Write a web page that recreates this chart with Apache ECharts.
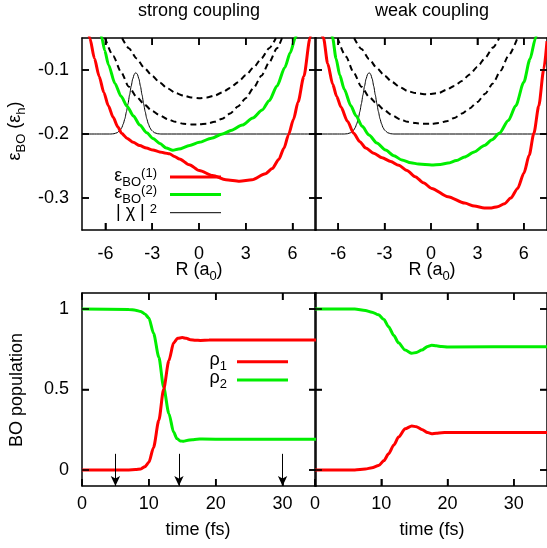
<!DOCTYPE html>
<html><head><meta charset="utf-8">
<script src="https://cdn.jsdelivr.net/npm/echarts@6/dist/echarts.min.js"></script>
<style>html,body{margin:0;padding:0;background:#fff}#c{width:547px;height:548px}</style>
</head><body><div id="c"></div>
<script>
// ---------- data ----------
const panelTitles = ['strong coupling', 'weak coupling'];
const rTicks = [-6, -3, 0, 3, 6];
const eTicks = [-0.3, -0.2, -0.1];
const tTicks = [0, 10, 20, 30];
const rhoTicks = [0, 0.5, 1];
const arrowTimes = [5, 14.5, 30];

// strong coupling, BO surfaces  [R (a0), energy (Eh)]
const strongE1 = [[-7.2,-0.03],[-7.0,-0.05],[-6.7,-0.082],[-6.4,-0.11],[-6.1,-0.135],[-5.81,-0.156],[-5.5,-0.174],[-5.2,-0.189],[-4.96,-0.199],[-4.6,-0.207],[-4.22,-0.213],[-3.8,-0.218],[-3.37,-0.222],[-2.95,-0.225],[-2.52,-0.228],[-2.2,-0.2295],[-1.89,-0.231],[-1.57,-0.235],[-1.25,-0.239],[-0.62,-0.248],[0.02,-0.257],[0.87,-0.265],[1.72,-0.2715],[2.6,-0.2737],[3.4,-0.2715],[4.26,-0.262],[4.7,-0.254],[5.11,-0.240],[5.45,-0.222],[5.74,-0.201],[6.06,-0.177],[6.35,-0.150],[6.72,-0.110],[7.12,-0.05],[7.3,-0.02]];
const strongE2 = [[-6.4,-0.03],[-6.23,-0.05],[-6.05,-0.069],[-5.8,-0.092],[-5.39,-0.121],[-5.0,-0.141],[-4.6,-0.157],[-4.2,-0.172],[-3.80,-0.186],[-3.35,-0.198],[-2.95,-0.207],[-2.5,-0.215],[-2.10,-0.222],[-1.68,-0.2255],[-1.3,-0.2235],[-0.6,-0.218],[0.02,-0.213],[0.8,-0.2065],[1.5,-0.200],[2.1,-0.194],[2.77,-0.186],[3.45,-0.175],[4.05,-0.1625],[4.5,-0.148],[5.0,-0.125],[5.5,-0.096],[5.85,-0.073],[6.17,-0.05],[6.35,-0.035]];
const strongE3 = [[-6.02,-0.05],[-5.5,-0.078],[-5.0,-0.103],[-4.5,-0.126],[-4.0,-0.142],[-3.5,-0.154],[-3.0,-0.164],[-2.5,-0.171],[-2.0,-0.177],[-1.5,-0.181],[-1.0,-0.184],[-0.5,-0.185],[0,-0.185],[0.5,-0.184],[1.0,-0.181],[1.5,-0.176],[2.0,-0.168],[2.5,-0.157],[3.0,-0.144],[3.5,-0.128],[4.0,-0.109],[4.5,-0.088],[5.0,-0.066],[5.32,-0.05]];
const strongE4 = [[-4.93,-0.05],[-4.5,-0.066],[-4.0,-0.082],[-3.5,-0.097],[-3.0,-0.109],[-2.5,-0.120],[-2.0,-0.129],[-1.5,-0.136],[-1.0,-0.140],[-0.5,-0.143],[0,-0.144],[0.5,-0.143],[1.0,-0.140],[1.5,-0.135],[2.0,-0.128],[2.5,-0.119],[3.0,-0.108],[3.5,-0.096],[4.0,-0.082],[4.5,-0.066],[4.93,-0.05]];
const strongChi = [[-7.5,-0.2],[-5.65,-0.2],[-5.45,-0.1996],[-5.25,-0.198],[-5.05,-0.194],[-4.95,-0.190],[-4.85,-0.184],[-4.75,-0.176],[-4.65,-0.165],[-4.55,-0.1527],[-4.45,-0.139],[-4.35,-0.1256],[-4.25,-0.114],[-4.15,-0.1067],[-4.05,-0.104],[-3.95,-0.1067],[-3.85,-0.114],[-3.75,-0.1256],[-3.65,-0.139],[-3.55,-0.1527],[-3.45,-0.165],[-3.35,-0.176],[-3.25,-0.184],[-3.15,-0.190],[-3.05,-0.194],[-2.85,-0.198],[-2.65,-0.1996],[-2.45,-0.2],[7.5,-0.2]];

// weak coupling, BO surfaces
const weakE1 = [[-7.2,-0.035],[-6.95,-0.05],[-6.68,-0.09],[-6.36,-0.122],[-6.1,-0.141],[-5.82,-0.158],[-5.4,-0.18],[-5.0,-0.199],[-4.6,-0.212],[-4.22,-0.222],[-3.7,-0.23],[-3.16,-0.237],[-2.6,-0.243],[-2.09,-0.249],[-1.55,-0.257],[-1.02,-0.2667],[-0.5,-0.276],[0.04,-0.285],[1.1,-0.298],[2.17,-0.308],[2.8,-0.3125],[3.45,-0.3155],[3.9,-0.3155],[4.3,-0.3136],[4.75,-0.309],[5.16,-0.300],[5.6,-0.285],[6.01,-0.261],[6.35,-0.233],[6.65,-0.199],[6.97,-0.156],[7.29,-0.099],[7.5,-0.055]];
const weakE2 = [[-6.55,-0.03],[-6.36,-0.05],[-6.14,-0.082],[-5.9,-0.108],[-5.61,-0.13],[-5.18,-0.156],[-4.86,-0.171],[-4.45,-0.188],[-4.01,-0.2016],[-3.5,-0.214],[-2.94,-0.225],[-2.4,-0.234],[-1.88,-0.2406],[-1.3,-0.245],[-0.81,-0.2469],[0.04,-0.2484],[0.6,-0.2475],[1.1,-0.2455],[1.65,-0.2415],[2.17,-0.236],[2.8,-0.228],[3.45,-0.218],[3.95,-0.209],[4.41,-0.199],[5.0,-0.179],[5.48,-0.156],[6.0,-0.119],[6.4,-0.083],[6.76,-0.05],[6.9,-0.035]];
const weakE3 = [[-6.04,-0.05],[-5.5,-0.079],[-5.0,-0.104],[-4.5,-0.126],[-4.0,-0.142],[-3.5,-0.153],[-3.0,-0.163],[-2.5,-0.171],[-2.0,-0.177],[-1.5,-0.181],[-1.0,-0.183],[-0.5,-0.184],[0,-0.184],[0.5,-0.183],[1.0,-0.180],[1.5,-0.175],[2.0,-0.168],[2.5,-0.160],[3.0,-0.150],[3.5,-0.137],[4.0,-0.121],[4.5,-0.101],[5.0,-0.078],[5.59,-0.05]];
const weakE4 = [[-4.97,-0.05],[-4.5,-0.067],[-4.0,-0.083],[-3.5,-0.097],[-3.0,-0.109],[-2.5,-0.119],[-2.0,-0.127],[-1.5,-0.133],[-1.0,-0.136],[-0.3,-0.138],[0.5,-0.136],[1.0,-0.131],[1.5,-0.125],[2.0,-0.117],[2.5,-0.107],[3.0,-0.095],[3.5,-0.081],[4.0,-0.065],[4.41,-0.05]];
const weakChi = [[-7.5,-0.2],[-5.6,-0.2],[-5.4,-0.1996],[-5.2,-0.198],[-5.0,-0.194],[-4.9,-0.190],[-4.8,-0.184],[-4.7,-0.176],[-4.6,-0.165],[-4.5,-0.1527],[-4.4,-0.139],[-4.3,-0.1256],[-4.2,-0.114],[-4.1,-0.1067],[-4.0,-0.104],[-3.9,-0.1067],[-3.8,-0.114],[-3.7,-0.1256],[-3.6,-0.139],[-3.5,-0.1527],[-3.4,-0.165],[-3.3,-0.176],[-3.2,-0.184],[-3.1,-0.190],[-3.0,-0.194],[-2.8,-0.198],[-2.6,-0.1996],[-2.4,-0.2],[7.5,-0.2]];

// BO populations  [time (fs), population]
const strongRho1 = [[0,0],[7,0],[8,0.002],[8.8,0.006],[9.4,0.02],[10,0.047],[10.7,0.14],[11.5,0.31],[12.2,0.50],[13,0.68],[13.7,0.79],[14.3,0.818],[15,0.823],[15.6,0.818],[16.2,0.81],[17,0.806],[17.7,0.805],[19,0.807],[22,0.808],[35,0.808]];
const strongRho2 = [[0,1],[7,0.998],[8,0.993],[8.8,0.985],[9.4,0.97],[10,0.944],[10.7,0.85],[11.5,0.70],[12.2,0.516],[13,0.35],[13.7,0.235],[14.2,0.195],[14.7,0.18],[15.2,0.178],[15.7,0.183],[16.5,0.188],[17.2,0.191],[18,0.192],[22,0.19],[35,0.19]];
const weakRho1 = [[0,0],[6,0],[7.6,0.006],[8.6,0.013],[9.6,0.027],[10.4,0.058],[11.1,0.1],[11.9,0.155],[12.6,0.204],[13.6,0.256],[14.6,0.273],[15.3,0.268],[16.1,0.252],[17,0.232],[17.6,0.225],[18.3,0.228],[19.1,0.231],[20,0.233],[35,0.233]];
const weakRho2 = [[0,1],[6,1],[7.6,0.991],[8.6,0.981],[9.6,0.964],[10.4,0.935],[11.1,0.89],[11.9,0.835],[12.6,0.79],[13.6,0.745],[14.6,0.725],[15.3,0.73],[16.1,0.745],[17,0.768],[17.6,0.775],[18.3,0.772],[19.1,0.767],[20,0.765],[35,0.766]];

// ---------- chart ----------
const FONT = 'Liberation Sans';
const RED = '#ff0000', GREEN = '#00ee00', BLACK = '#000000';
const chart = echarts.init(document.getElementById('c'), null, {renderer: 'canvas'});

const gridBoxes = [
  {left: 82, top: 38, width: 234, height: 192},
  {left: 315, top: 38, width: 234, height: 192},
  {left: 82, top: 293, width: 234, height: 193},
  {left: 315, top: 293, width: 234, height: 193}
];
const xRanges = [[-7.5, 7.5], [-7.5, 7.5], [0, 35], [0, 35]];
const yRanges = [[-0.35, -0.05], [-0.35, -0.05], [-0.1, 1.1], [-0.1, 1.1]];
const xTickSets = [rTicks, rTicks, tTicks, tTicks];
const yTickSets = [eTicks, eTicks, rhoTicks, rhoTicks];
const xMargins = [15, 15, 9, 9];

const axLine = {show: true, onZero: false, lineStyle: {color: BLACK, width: 1.5}};
const xAxes = [], yAxes = [];
for (let pos of ['bottom', 'top']) {
  for (let i = 0; i < 4; i++) {
    xAxes.push({
      type: 'value', gridIndex: i, position: pos, min: xRanges[i][0], max: xRanges[i][1],
      axisLine: axLine, splitLine: {show: false},
      axisTick: {show: true, inside: true, length: 7, customValues: xTickSets[i], lineStyle: {color: BLACK, width: 1.5}},
      axisLabel: {show: pos === 'bottom', customValues: xTickSets[i], margin: xMargins[i],
        fontFamily: FONT, fontSize: 18, color: BLACK}
    });
  }
}
for (let pos of ['left', 'right']) {
  for (let i = 0; i < 4; i++) {
    yAxes.push({
      type: 'value', gridIndex: i, position: pos, min: yRanges[i][0], max: yRanges[i][1],
      axisLine: axLine, splitLine: {show: false},
      axisTick: {show: true, inside: true, length: 7, customValues: yTickSets[i], lineStyle: {color: BLACK, width: 1.5}},
      axisLabel: {show: pos === 'left' && (i === 0 || i === 2), customValues: yTickSets[i], margin: 13,
        fontFamily: FONT, fontSize: 18, color: BLACK}
    });
  }
}

function ln(data, gi, color, width, type, smooth) {
  return {type: 'line', data: data, xAxisIndex: gi, yAxisIndex: gi, symbol: 'none', showSymbol: false,
    smooth: smooth === undefined ? 0.25 : smooth, smoothMonotone: 'x', clip: true, silent: true,
    lineStyle: {color: color, width: width, type: type || 'solid'}};
}

const series = [
  ln(strongE4, 0, BLACK, 2, [6, 4]), ln(strongE3, 0, BLACK, 2, [6, 4]),
  ln(strongChi, 0, BLACK, 1, 'solid', 0.2),
  ln(strongE2, 0, GREEN, 3), ln(strongE1, 0, RED, 3),
  ln(weakE4, 1, BLACK, 2, [6, 4]), ln(weakE3, 1, BLACK, 2, [6, 4]),
  ln(weakChi, 1, BLACK, 1, 'solid', 0.2),
  ln(weakE2, 1, GREEN, 3), ln(weakE1, 1, RED, 3),
  ln(strongRho2, 2, GREEN, 3), ln(strongRho1, 2, RED, 3),
  ln(weakRho2, 3, GREEN, 3), ln(weakRho1, 3, RED, 3)
];
series[11].markLine = {
  silent: true, animation: false, symbol: ['none', 'arrow'], symbolSize: [7, 10],
  label: {show: false}, lineStyle: {color: BLACK, width: 1, type: 'solid'},
  emphasis: {disabled: true},
  data: arrowTimes.map(t => [{coord: [t, 0.1]}, {coord: [t, -0.1]}])
};

// inward tick marks (mirrored on all four sides), each a short 2-point line in data units
const TICK_PX = 7;
for (let i = 0; i < 4; i++) {
  const [x0, x1] = xRanges[i], [y0, y1] = yRanges[i];
  const dy = (y1 - y0) * TICK_PX / gridBoxes[i].height;
  const dx = (x1 - x0) * TICK_PX / gridBoxes[i].width;
  const segs = [];
  xTickSets[i].forEach(v => { segs.push([[v, y0], [v, y0 + dy]], [[v, y1], [v, y1 - dy]]); });
  yTickSets[i].forEach(v => { segs.push([[x0, v], [x0 + dx, v]], [[x1, v], [x1 - dx, v]]); });
  segs.forEach(d => {
    const s = ln(d, i, BLACK, 1.5, 'solid', false);
    s.clip = false; s.z = 5;
    series.push(s);
  });
}

const RICH = {
  m: {fontSize: 18, fontFamily: FONT, lineHeight: 22, verticalAlign: 'top', fill: BLACK, color: BLACK},
  s: {fontSize: 13, fontFamily: FONT, lineHeight: 9, verticalAlign: 'bottom', fill: BLACK, color: BLACK},
  p: {fontSize: 13, fontFamily: FONT, lineHeight: 8, verticalAlign: 'top', fill: BLACK, color: BLACK}
};
function txt(text, x, y, align, rot) {
  return {type: 'text', x: x, y: y, rotation: rot || 0, silent: true, z: 100,
    style: {text: text, rich: RICH, fontFamily: FONT, fontSize: 18, fill: BLACK,
      align: align || 'center', verticalAlign: 'middle', textAlign: align || 'center', textVerticalAlign: 'middle'}};
}
function seg(x1, y1, x2, y2, color, w) {
  return {type: 'line', silent: true, z: 100, shape: {x1: x1, y1: y1, x2: x2, y2: y2},
    style: {stroke: color, lineWidth: w}};
}

const graphic = [
  txt('{m|' + panelTitles[0] + '}', 199, 13),
  txt('{m|' + panelTitles[1] + '}', 432, 13),
  txt('{m|ε}{s|BO}{m| (ε}{s|h}{m|)}', 17, 131, 'center', Math.PI / 2),
  txt('{m|BO population}', 19, 390, 'center', Math.PI / 2),
  txt('{m|R (a}{s|0}{m|)}', 199, 272),
  txt('{m|R (a}{s|0}{m|)}', 432, 272),
  txt('{m|time (fs)}', 198, 532),
  txt('{m|time (fs)}', 432, 532),
  txt('{m|ε}{s|BO}{p|(1)}', 157, 178, 'right'),
  txt('{m|ε}{s|BO}{p|(2)}', 157, 195, 'right'),
  txt('{m|| χ | }{p|2}', 157, 214, 'right'),
  seg(170, 177, 221, 177, RED, 3), seg(170, 194.5, 221, 194.5, GREEN, 3), seg(170, 212.7, 221, 212.7, BLACK, 1),
  txt('{m|ρ}{s|1}', 227, 362, 'right'),
  txt('{m|ρ}{s|2}', 227, 380, 'right'),
  seg(237, 361.7, 288, 361.7, RED, 3), seg(237, 380, 288, 380, GREEN, 3)
];

chart.setOption({
  animation: false,
  backgroundColor: '#ffffff',
  grid: gridBoxes,
  xAxis: xAxes,
  yAxis: yAxes,
  series: series,
  graphic: graphic
});
</script>
</body></html>
